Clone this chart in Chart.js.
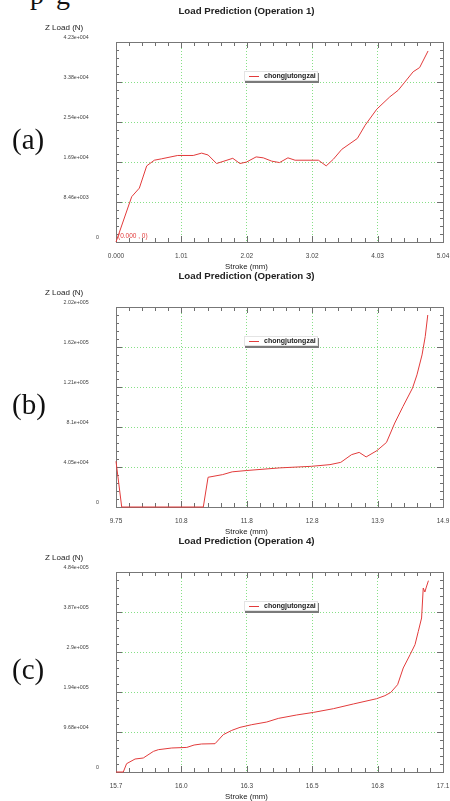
<!DOCTYPE html>
<html>
<head>
<meta charset="utf-8">
<script src="https://cdn.jsdelivr.net/npm/chart.js@4.4.0/dist/chart.umd.min.js"></script>
<style>
    body {
        margin: 0;
        width: 450px;
        height: 801px;
        overflow: hidden;
        position: relative;
        background: #ffffff;
        font-family: 'Liberation Sans', Arial, sans-serif;
        color: #222;
    }
    .panel { position: absolute; left: 0; width: 450px; height: 265px; }
    .panel canvas { position: absolute; left: 0; top: 0; }
    .title {
        position: absolute; top: 5px; left: 0; width: 493px;
        text-align: center; font-weight: bold; font-size: 9.7px; line-height: 12px;
    }
    .ylabel { position: absolute; left: 45px; top: 23px; font-size: 8px; line-height: 10px; }
    .xlabel {
        position: absolute; top: 262px; left: 0; width: 493px;
        text-align: center; font-size: 7.8px; line-height: 10px;
    }
    .tag {
        position: absolute; left: 12px; top: 123px;
        font-family: 'Liberation Serif', 'Times New Roman', serif; font-size: 29px; line-height: 32px; color: #111;
    }
    .legend {
        position: absolute; left: 244px; top: 71px; width: 72px; height: 8px;
        background: #fff; border: 1px solid #e4e4e4;
        box-shadow: 1px 2px 0 #7a7a7a;
        font-size: 7px; font-weight: bold; line-height: 8px;
    }
    .legend i { position: absolute; left: 4px; top: 4px; width: 10px; height: 1px; background: #e23b3b; }
    .legend span { position: absolute; left: 19px; top: 0; }
    .origin { position: absolute; left: 118px; top: 232px; font-size: 6.5px; line-height: 8px; color: #e23b3b; }
    .cut {
        position: absolute; top: -19px; font-family: 'Liberation Serif', serif;
        font-size: 28px; line-height: 28px; color: #111;
    }
</style>
</head>
<body>

<span class="cut" style="left:30px">p</span>
<span class="cut" style="left:56px">g</span>

<div class="panel" style="top:0">
    <canvas id="chartA" width="450" height="265"></canvas>
    <div class="title">Load Prediction (Operation 1)</div>
    <div class="ylabel">Z Load (N)</div>
    <div class="xlabel">Stroke (mm)</div>
    <div class="tag">(a)</div>
    <div class="legend"><i></i><span class="lg"></span></div>
    <div class="origin">(0.000 , 0)</div>
</div>

<div class="panel" style="top:265px">
    <canvas id="chartB" width="450" height="265"></canvas>
    <div class="title">Load Prediction (Operation 3)</div>
    <div class="ylabel">Z Load (N)</div>
    <div class="xlabel">Stroke (mm)</div>
    <div class="tag">(b)</div>
    <div class="legend"><i></i><span class="lg"></span></div>
</div>

<div class="panel" style="top:530px">
    <canvas id="chartC" width="450" height="265"></canvas>
    <div class="title">Load Prediction (Operation 4)</div>
    <div class="ylabel">Z Load (N)</div>
    <div class="xlabel">Stroke (mm)</div>
    <div class="tag">(c)</div>
    <div class="legend"><i></i><span class="lg"></span></div>
</div>

<script>
// Series name
const seriesName = 'chongjutongzai';

// Operation 1
const strokeA = [0, 0.242, 0.360, 0.473, 0.591, 0.704, 0.951, 1.19, 1.32, 1.42, 1.55, 1.80, 1.91, 2.01,
    2.16, 2.27, 2.40, 2.52, 2.65, 2.76, 3.12, 3.24, 3.35, 3.48, 3.72, 3.84, 4.02, 4.22, 4.35, 4.45, 4.58, 4.68, 4.81];
const loadA = [0, 9580, 11400, 16100, 17300, 17600, 18300, 18300, 18800, 18400, 16600, 17700, 16600, 16900,
    18000, 17800, 17100, 16800, 17800, 17300, 17300, 16100, 17500, 19600, 21900, 24700, 28100, 30700, 32100, 33800, 36000, 36900, 40400];
const xTicksA = [0, 1.008, 2.016, 3.024, 4.032, 5.04];
const xLabelsA = ['0.000', '1.01', '2.02', '3.02', '4.03', '5.04'];
const yTicksA = [0, 8460, 16920, 25380, 33840, 42300];
const yLabelsA = ['0', '8.46e+003', '1.69e+004', '2.54e+004', '3.38e+004', '4.23e+004'];

// Operation 3
const strokeB = [9.75, 9.84, 11.125, 11.20, 11.43, 11.58, 11.80, 12.33, 12.83, 13.12, 13.29, 13.46, 13.58,
    13.69, 13.86, 14.01, 14.14, 14.27, 14.42, 14.49, 14.57, 14.62, 14.66];
const loadB = [46300, 0, 0, 30100, 32800, 35600, 36900, 39600, 41200, 42900, 45200, 53000, 55300,
    50700, 57100, 65400, 85000, 101800, 120400, 133800, 154000, 172500, 194400];
const xTicksB = [9.75, 10.78, 11.81, 12.84, 13.87, 14.9];
const xLabelsB = ['9.75', '10.8', '11.8', '12.8', '13.9', '14.9'];
const yTicksB = [0, 40500, 81000, 121500, 162000, 202500];
const yLabelsB = ['0', '4.05e+004', '8.1e+004', '1.21e+005', '1.62e+005', '2.02e+005'];

// Operation 4
const strokeC = [15.700, 15.731, 15.745, 15.781, 15.816, 15.859, 15.880, 15.937, 16.001, 16.032, 16.064, 16.121,
    16.156, 16.192, 16.227, 16.277, 16.341, 16.390, 16.468, 16.539, 16.624, 16.709, 16.808, 16.843, 16.868,
    16.897, 16.921, 16.950, 16.971, 16.985, 16.999, 17.006, 17.013, 17.018, 17.028];
const loadC = [0, 0, 20100, 31400, 33900, 49900, 54000, 58100, 59500, 65300, 67800, 68500,
    90300, 100700, 108000, 114500, 121000, 129700, 138000, 144200, 153200, 164600, 177400, 184700, 192600,
    211300, 251700, 283900, 308100, 340300, 372700, 445300, 435600, 445300, 463000];
const xTicksC = [15.70, 15.978, 16.256, 16.534, 16.812, 17.09];
const xLabelsC = ['15.7', '16.0', '16.3', '16.5', '16.8', '17.1'];
const yTicksC = [0, 96800, 193600, 290400, 387200, 484000];
const yLabelsC = ['0', '9.68e+004', '1.94e+005', '2.9e+005', '3.87e+005', '4.84e+005'];

const LINE_RED = '#e23b3b';
const GRID_GREEN = '#86e086';

// Plot frame with inward major/minor tick marks on all four sides
const frameTicks = {
    id: 'frameTicks',
    beforeDatasetsDraw(chart) {
        const { ctx, chartArea: a, scales: { x, y } } = chart;
        ctx.save();
        ctx.strokeStyle = '#6e6e6e';
        ctx.lineWidth = 1;
        ctx.beginPath();

        const xv = x.ticks.map(t => t.value);
        const yv = y.ticks.map(t => t.value);

        for (let i = 0; i < xv.length; i++) {
            for (let k = 0; k < 5; k++) {
                if (i === xv.length - 1 && k > 0) break;
                const v = k === 0 ? xv[i] : xv[i] + (xv[i + 1] - xv[i]) * k / 5;
                const px = Math.round(x.getPixelForValue(v)) + 0.5;
                const len = k === 0 ? 6 : 4;
                ctx.moveTo(px, a.top); ctx.lineTo(px, a.top + len);
                ctx.moveTo(px, a.bottom); ctx.lineTo(px, a.bottom - len);
            }
        }
        for (let i = 0; i < yv.length; i++) {
            for (let k = 0; k < 5; k++) {
                if (i === yv.length - 1 && k > 0) break;
                const v = k === 0 ? yv[i] : yv[i] + (yv[i + 1] - yv[i]) * k / 5;
                const py = Math.round(y.getPixelForValue(v)) + 0.5;
                const len = k === 0 ? 6 : 3;
                ctx.moveTo(a.left, py); ctx.lineTo(a.left + len, py);
                ctx.moveTo(a.right, py); ctx.lineTo(a.right - len, py);
            }
        }
        ctx.stroke();

        ctx.strokeStyle = '#777777';
        ctx.strokeRect(Math.round(a.left) + 0.5, Math.round(a.top) + 0.5,
            Math.round(a.right - a.left), Math.round(a.bottom - a.top));
        ctx.restore();
    }
};

function buildLoadChart(id, strokes, loads, xTicks, xLabels, yTicks, yLabels) {
    const ctx = document.getElementById(id);
    if (!ctx) return;

    const points = strokes.map((s, i) => ({ x: s, y: loads[i] }));

    const config = {
        type: 'line',
        data: {
            datasets: [{
                label: seriesName,
                data: points,
                borderColor: LINE_RED,
                borderWidth: 1,
                pointRadius: 0,
                fill: false,
                tension: 0,
                clip: false
            }]
        },
        options: {
            responsive: false,
            animation: false,
            devicePixelRatio: 1,
            layout: {
                padding: { top: 42, right: 7, bottom: 0, left: 0 }
            },
            plugins: {
                legend: { display: false },
                tooltip: { enabled: false }
            },
            scales: {
                x: {
                    type: 'linear',
                    min: xTicks[0],
                    max: xTicks[xTicks.length - 1],
                    afterBuildTicks: scale => { scale.ticks = xTicks.map(v => ({ value: v })); },
                    afterFit: scale => { scale.height = 23; },
                    grid: {
                        color: GRID_GREEN,
                        lineWidth: 1,
                        drawTicks: true,
                        tickLength: 10,
                        tickColor: 'rgba(0,0,0,0)'
                    },
                    border: { display: false, dash: [1, 2] },
                    ticks: {
                        autoSkip: false,
                        maxRotation: 0,
                        padding: 0,
                        color: '#444',
                        font: { family: "'Liberation Sans', Arial, sans-serif", size: 6.5 },
                        callback: (value, index) => xLabels[index]
                    }
                },
                y: {
                    min: yTicks[0],
                    max: yTicks[yTicks.length - 1],
                    afterBuildTicks: scale => { scale.ticks = yTicks.map(v => ({ value: v })); },
                    afterFit: scale => { scale.width = 116; },
                    grid: {
                        color: GRID_GREEN,
                        lineWidth: 1,
                        drawTicks: false
                    },
                    border: { display: false, dash: [1, 2] },
                    ticks: {
                        autoSkip: false,
                        padding: 17,
                        labelOffset: -4,
                        color: '#444',
                        font: { family: "'Liberation Sans', Arial, sans-serif", size: 5.3 },
                        // the zero label sits closer to the frame than the others
                        callback: (value, index) => index === 0 ? yLabels[index] : yLabels[index] + '       '
                    }
                }
            }
        },
        plugins: [frameTicks]
    };

    new Chart(ctx, config);
}

document.querySelectorAll('.legend .lg').forEach(el => { el.textContent = seriesName; });

buildLoadChart('chartA', strokeA, loadA, xTicksA, xLabelsA, yTicksA, yLabelsA);
buildLoadChart('chartB', strokeB, loadB, xTicksB, xLabelsB, yTicksB, yLabelsB);
buildLoadChart('chartC', strokeC, loadC, xTicksC, xLabelsC, yTicksC, yLabelsC);
</script>
</body>
</html>
